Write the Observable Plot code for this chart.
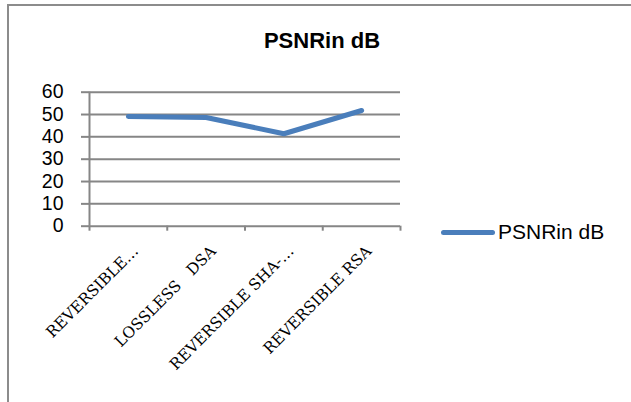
<!DOCTYPE html>
<html>
<head>
<meta charset="utf-8">
<script src="https://cdn.jsdelivr.net/npm/d3@7"></script>
<script src="https://cdn.jsdelivr.net/npm/@observablehq/plot@0.6"></script>
<style>
  html, body { margin: 0; padding: 0; background: #fff; }
  #wrap { position: relative; width: 631px; height: 402px; overflow: hidden; background: #fff; }
  #border { position: absolute; left: 6.5px; top: 4px; right: -10px; bottom: -10px;
            border-left: 2.5px solid #8c8c8c; border-top: 2.5px solid #8c8c8c; }
  #title { position: absolute; left: 222px; width: 200px; top: 28px; text-align: center;
           font: bold 22px "Liberation Sans", Arial, sans-serif; line-height: 26px; color: #000; }
  #legend { position: absolute; left: 441px; top: 219px; display: flex; align-items: center;
            font: 21px "Liberation Sans", Arial, sans-serif; color: #000; line-height: 26px; }
  #legend .sw { display: inline-block; width: 54px; height: 5px; border-radius: 3px; background: #4a7ebb; margin-right: 3px; }
  #chart { position: absolute; left: 0; top: 0; }
</style>
</head>
<body>
<div id="wrap">
  <div id="chart"></div>
  <div id="border"></div>
  <div id="title"></div>
  <div id="legend"><span class="sw"></span><span class="lt"></span></div>
</div>
<script>
const title = "PSNRin dB";
const seriesName = "PSNRin dB";
const categories = ["REVERSIBLE…", "LOSSLESS   DSA", "REVERSIBLE SHA-…", "REVERSIBLE RSA"];
const values = [49.1, 48.7, 41.4, 51.8];
const yTicks = [0, 10, 20, 30, 40, 50, 60];

const blue = "#4a7ebb";
const gray = "#868686";

document.getElementById("title").textContent = title;
document.querySelector("#legend .lt").textContent = seriesName;

const data = values.map((v, i) => ({cat: categories[i], idx: i + 0.5, value: v}));
const boundaries = d3.range(categories.length + 1);

const chart = Plot.plot({
  width: 631,
  height: 402,
  marginLeft: 89,
  marginRight: 231,
  marginTop: 91.7,
  marginBottom: 176.3,
  style: {background: "transparent", fontFamily: "'Liberation Sans', Arial, sans-serif"},
  x: {domain: [0, categories.length], axis: null},
  y: {domain: [0, 60], axis: null},
  marks: [
    Plot.ruleY(yTicks, {stroke: gray, strokeWidth: 2}),
    Plot.ruleX([0], {stroke: gray, strokeWidth: 2}),
    Plot.axisY({ticks: yTicks, tickSize: 8, tickPadding: 18, stroke: gray, strokeWidth: 2,
                fill: "#000", fontSize: 19.5, label: null}),
    Plot.axisX({ticks: boundaries, tickSize: 5, tickFormat: () => "", stroke: gray, strokeWidth: 2, label: null}),
    Plot.text(data, {x: "idx", text: "cat", frameAnchor: "bottom", rotate: -45, textAnchor: "end",
                     lineAnchor: "top", dx: 3, dy: 18, fontSize: 15.5, fontWeight: 500,
                     fontFamily: "'DejaVu Serif', 'Liberation Serif', serif", fill: "#000"}),
    Plot.line(data, {x: "idx", y: "value", stroke: blue, strokeWidth: 5,
                     strokeLinecap: "round", strokeLinejoin: "round"})
  ]
});
document.getElementById("chart").appendChild(chart);
</script>
</body>
</html>
